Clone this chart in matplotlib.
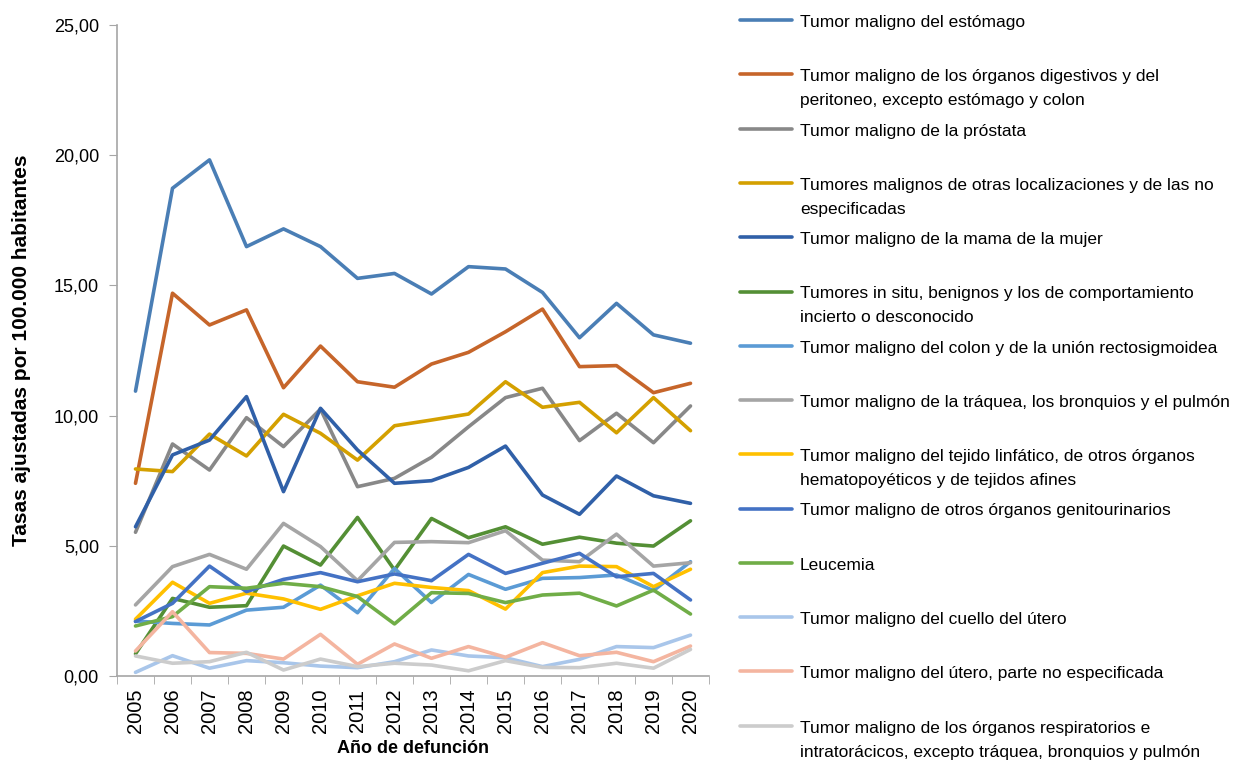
import matplotlib
matplotlib.use('Agg')
import matplotlib.pyplot as plt
from matplotlib.ticker import FuncFormatter
from matplotlib.legend_handler import HandlerLine2D
from matplotlib.lines import Line2D
import numpy as np

plt.rcParams['font.family'] = ['Liberation Sans', 'DejaVu Sans']

years = [str(y) for y in range(2005, 2021)]

labels = [
    'Tumor maligno del estómago',
    'Tumor maligno de los órganos digestivos y del\nperitoneo, excepto estómago y colon',
    'Tumor maligno de la próstata',
    'Tumores malignos de otras localizaciones y de las no\nespecificadas',
    'Tumor maligno de la mama de la mujer',
    'Tumores in situ, benignos y los de comportamiento\nincierto o desconocido',
    'Tumor maligno del colon y de la unión rectosigmoidea',
    'Tumor maligno de la tráquea, los bronquios y el pulmón',
    'Tumor maligno del tejido linfático, de otros órganos\nhematopoyéticos y de tejidos afines',
    'Tumor maligno de otros órganos genitourinarios',
    'Leucemia',
    'Tumor maligno del cuello del útero',
    'Tumor maligno del útero, parte no especificada',
    'Tumor maligno de los órganos respiratorios e\nintratorácicos, excepto tráquea, bronquios y pulmón',
]

estomago = [10.94, 18.73, 19.82, 16.49, 17.17, 16.49, 15.27, 15.46, 14.67, 15.72, 15.63, 14.73, 12.99, 14.31, 13.10, 12.78]
digestivos = [7.40, 14.70, 13.48, 14.06, 11.07, 12.67, 11.30, 11.09, 11.98, 12.43, 13.22, 14.09, 11.88, 11.92, 10.88, 11.24]
prostata = [5.52, 8.91, 7.91, 9.92, 8.81, 10.25, 7.27, 7.59, 8.40, 9.57, 10.69, 11.05, 9.04, 10.09, 8.96, 10.37]
otras = [7.95, 7.85, 9.29, 8.45, 10.05, 9.32, 8.29, 9.61, 9.83, 10.06, 11.30, 10.32, 10.51, 9.34, 10.69, 9.42]
mama = [5.73, 8.49, 9.06, 10.73, 7.08, 10.28, 8.68, 7.40, 7.50, 8.01, 8.83, 6.95, 6.21, 7.68, 6.92, 6.63]
in_situ = [0.85, 2.98, 2.64, 2.70, 4.99, 4.26, 6.09, 4.07, 6.05, 5.31, 5.73, 5.06, 5.33, 5.10, 4.99, 5.96]
colon = [2.11, 2.02, 1.96, 2.53, 2.64, 3.49, 2.43, 4.13, 2.82, 3.90, 3.33, 3.75, 3.78, 3.88, 3.28, 4.39]
traquea = [2.73, 4.20, 4.67, 4.10, 5.86, 4.97, 3.66, 5.13, 5.16, 5.12, 5.58, 4.45, 4.39, 5.45, 4.22, 4.35]
linfatico = [2.18, 3.60, 2.79, 3.18, 2.96, 2.56, 3.08, 3.56, 3.40, 3.28, 2.57, 3.97, 4.22, 4.20, 3.43, 4.10]
genitourinarios = [2.09, 2.79, 4.22, 3.24, 3.71, 3.97, 3.62, 3.92, 3.66, 4.67, 3.94, 4.33, 4.71, 3.81, 3.94, 2.92]
leucemia = [1.92, 2.28, 3.43, 3.37, 3.56, 3.43, 3.05, 2.00, 3.20, 3.17, 2.82, 3.11, 3.18, 2.69, 3.30, 2.38]
cuello = [0.14, 0.78, 0.30, 0.59, 0.51, 0.38, 0.32, 0.55, 1.00, 0.77, 0.70, 0.36, 0.64, 1.13, 1.09, 1.57]
utero = [0.96, 2.47, 0.90, 0.87, 0.65, 1.60, 0.45, 1.23, 0.68, 1.13, 0.72, 1.28, 0.78, 0.91, 0.55, 1.15]
respiratorios = [0.77, 0.49, 0.55, 0.91, 0.23, 0.65, 0.36, 0.49, 0.42, 0.20, 0.59, 0.33, 0.32, 0.49, 0.30, 1.02]

series = [estomago, digestivos, prostata, otras, mama, in_situ, colon, traquea,
          linfatico, genitourinarios, leucemia, cuello, utero, respiratorios]

colors = ['#4A7EB5', '#C6652A', '#888888', '#D4A000', '#3060A8', '#548F35', '#5B9BD5',
          '#A5A5A5', '#FFC000', '#4472C4', '#70AD47', '#A9C6EA', '#F4B5A0', '#CCCCCC']

axis_color = '#A6A6A6'
leg_fs = 12.5


class TopLineHandler(HandlerLine2D):
    # put the legend sample next to the first text line, like Excel does
    def __init__(self, shift, **kw):
        super().__init__(**kw)
        self.shift = shift

    def create_artists(self, legend, orig_handle, xdescent, ydescent, width, height, fontsize, trans):
        return super().create_artists(legend, orig_handle, xdescent, ydescent - 2 * self.shift,
                                      width, height, fontsize, trans)


fig = plt.figure(figsize=(12.33, 7.64), dpi=100)
ax = fig.add_axes([117 / 1233, 1 - 676 / 764, 592 / 1233, 651 / 764])

x = np.arange(len(years))
for vals, name, color in zip(series, labels, colors):
    ax.plot(x, vals, color=color, lw=2.6, label=name,
            solid_joinstyle='round', solid_capstyle='round')

ax.set_xlim(-0.5, len(years) - 0.5)
ax.set_ylim(0, 25)
ax.set_yticks(np.arange(0, 26, 5))
ax.yaxis.set_major_formatter(FuncFormatter(lambda v, p: f'{v:.2f}'.replace('.', ',')))
ax.set_xticks(x)
ax.set_xticklabels(years, rotation=90)
ax.set_xticks(np.arange(-0.5, len(years), 1), minor=True)
ax.tick_params(axis='x', which='major', length=0, pad=9, labelsize=14.5)
ax.tick_params(axis='x', which='minor', length=6, color=axis_color, direction='out')
ax.tick_params(axis='y', length=6, color=axis_color, labelsize=13, pad=7)

for side in ['top', 'right']:
    ax.spines[side].set_visible(False)
for side in ['left', 'bottom']:
    ax.spines[side].set_color(axis_color)
    ax.spines[side].set_linewidth(1.2)

ax.set_xlabel('Año de defunción', fontsize=13, fontweight='bold', labelpad=5)
ax.set_ylabel('Tasas ajustadas por 100.000 habitantes', fontsize=15, fontweight='bold', labelpad=16)

handles, labs = ax.get_legend_handles_labels()
labs = [l if '\n' in l else l + '\n ' for l in labs]
leg = fig.legend(handles, labs, loc='upper left', bbox_to_anchor=(740 / 1233, 1 - 15 / 764),
                 frameon=False, fontsize=leg_fs, handlelength=3.0, handletextpad=0.45,
                 labelspacing=0.88, borderpad=0, borderaxespad=0,
                 handler_map={Line2D: TopLineHandler(shift=10.3)})
for t in leg.get_texts():
    t.set_linespacing(1.75)

fig.savefig('out.png', dpi=100)
